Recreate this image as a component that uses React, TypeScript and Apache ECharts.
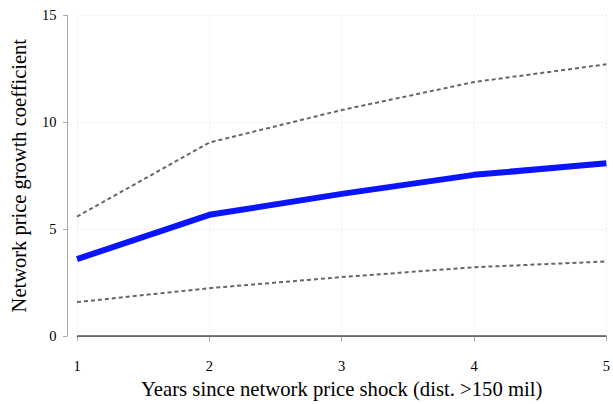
import React, { useEffect, useRef } from "react";
import * as echarts from "echarts";

const years = [1, 2, 3, 4, 5];
const coefficient = [3.6, 5.67, 6.65, 7.54, 8.08];
const upperCI = [5.59, 9.05, 10.57, 11.88, 12.71];
const lowerCI = [1.59, 2.24, 2.76, 3.22, 3.49];
const yTicks = [0, 5, 10, 15];

const FONT = "'Liberation Serif', 'Times New Roman', serif";

export default function App() {
  const ref = useRef<HTMLDivElement>(null);
  useEffect(() => {
    if (!ref.current) return;
    const chart = echarts.init(ref.current, undefined, { renderer: "svg" });
    const pair = (arr: number[]) => years.map((x, i) => [x, arr[i]]);
    chart.setOption({
      animation: false,
      backgroundColor: "#ffffff",
      grid: { left: 76, right: 2, top: 15.3, bottom: 67.7 },
      xAxis: {
        type: "value",
        min: years[0],
        max: years[years.length - 1],
        interval: 1,
        offset: 10,
        name: "Years since network price shock (dist. >150 mil)",
        nameLocation: "middle",
        nameGap: 31,
        nameTextStyle: { fontFamily: FONT, fontSize: 20.7, color: "#000", verticalAlign: "top" },
        axisLine: { show: true, lineStyle: { color: "#aaaaaa", width: 1 } },
        axisTick: { show: true, length: 5, lineStyle: { color: "#aaaaaa" } },
        axisLabel: { fontFamily: FONT, fontSize: 14.5, color: "#000", margin: 12 },
        splitLine: { show: true, lineStyle: { color: "#dddddd", type: [1, 3], width: 1 } },
      },
      yAxis: {
        type: "value",
        min: yTicks[0],
        max: yTicks[yTicks.length - 1],
        interval: 5,
        offset: 10,
        name: "Network price growth coefficient",
        nameLocation: "middle",
        nameGap: 38,
        nameTextStyle: { fontFamily: FONT, fontSize: 20.5, color: "#000" },
        axisLine: { show: true, lineStyle: { color: "#aaaaaa", width: 1 } },
        axisTick: { show: true, length: 4, lineStyle: { color: "#aaaaaa" } },
        axisLabel: { fontFamily: FONT, fontSize: 14.5, color: "#000", margin: 10.5 },
        splitLine: { show: true, lineStyle: { color: "#dddddd", type: [1, 3], width: 1 } },
      },
      series: [
        {
          type: "line",
          data: pair(upperCI),
          symbol: "none",
          lineStyle: { color: "#666666", width: 2, type: [4, 3] },
          z: 3,
        },
        {
          type: "line",
          data: pair(lowerCI),
          symbol: "none",
          lineStyle: { color: "#666666", width: 2, type: [4, 3] },
          z: 3,
        },
        {
          type: "line",
          data: pair(coefficient),
          symbol: "none",
          lineStyle: { color: "#0a14ff", width: 6 },
          z: 4,
          markLine: {
            silent: true,
            symbol: "none",
            label: { show: false },
            lineStyle: { color: "#555555", width: 1.5, type: "solid" },
            data: [{ yAxis: 0 }],
          },
        },
      ],
    });
    return () => chart.dispose();
  }, []);
  return <div ref={ref} style={{ width: 613, height: 404, position: "absolute", left: 0, top: 0 }} />;
}
